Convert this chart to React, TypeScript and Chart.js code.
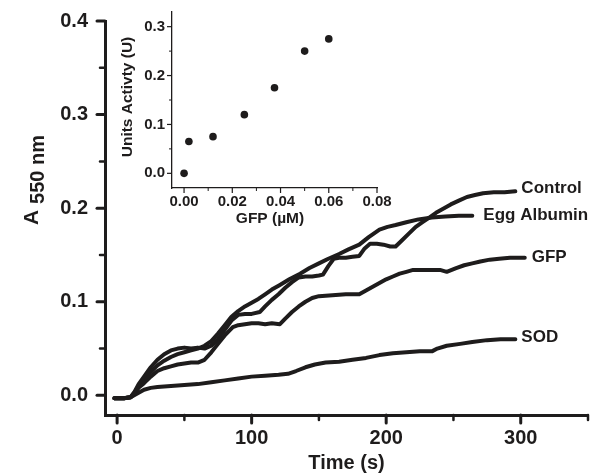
import React, { useEffect, useRef } from "react";
import { Chart, registerables } from "chart.js";

Chart.register(...registerables);

const FONT = '"Liberation Sans", Arial, Helvetica, sans-serif';
const INK = "#1e1c1c";

// ---------- main panel: A550 vs time ----------
const controlTime = [-2, 5, 10, 13, 16, 20, 25, 30, 35, 40, 45, 50, 55, 60, 65, 70, 75, 80, 85, 90, 95, 100, 106, 110, 115, 120, 125, 130, 135, 140, 145, 150, 153, 157, 161, 165, 170, 175, 180, 184, 188, 193, 198, 203, 207, 212, 217, 222, 227, 232, 237, 242, 248, 254, 260, 266, 272, 280, 288, 296];
const controlA550 = [-0.003, -0.003, -0.002, 0.004, 0.012, 0.02, 0.03, 0.038, 0.044, 0.048, 0.05, 0.051, 0.05, 0.051, 0.05, 0.053, 0.06, 0.07, 0.08, 0.086, 0.087, 0.087, 0.089, 0.095, 0.102, 0.108, 0.115, 0.121, 0.126, 0.127, 0.127, 0.128, 0.129, 0.138, 0.146, 0.147, 0.147, 0.148, 0.149, 0.157, 0.162, 0.162, 0.161, 0.159, 0.159, 0.166, 0.173, 0.18, 0.185, 0.19, 0.195, 0.199, 0.204, 0.208, 0.212, 0.214, 0.216, 0.217, 0.217, 0.218];

const eggTime = [-2, 5, 10, 13, 16, 20, 25, 30, 35, 40, 45, 50, 55, 60, 65, 70, 75, 80, 85, 90, 95, 100, 105, 110, 115, 121, 128, 136, 143, 150, 157, 165, 172, 180, 187, 195, 201, 207, 215, 224, 234, 244, 254, 264];
const eggA550 = [-0.003, -0.003, -0.002, 0.003, 0.01, 0.017, 0.025, 0.032, 0.037, 0.041, 0.044, 0.046, 0.048, 0.05, 0.053, 0.058, 0.066, 0.075, 0.084, 0.09, 0.095, 0.099, 0.103, 0.108, 0.113, 0.118, 0.124, 0.13, 0.136, 0.141, 0.146, 0.151, 0.156, 0.161, 0.169, 0.177, 0.18, 0.182, 0.185, 0.188, 0.19, 0.191, 0.192, 0.192];

const gfpTime = [-2, 5, 10, 13, 16, 20, 25, 30, 35, 40, 45, 50, 55, 60, 65, 70, 75, 80, 86, 90, 95, 100, 105, 110, 115, 121, 125, 130, 135, 140, 145, 150, 160, 170, 180, 185, 190, 195, 200, 205, 210, 215, 220, 230, 240, 245, 252, 258, 264, 270, 277, 284, 292, 303];
const gfpA550 = [-0.003, -0.003, -0.002, 0.002, 0.008, 0.013, 0.02, 0.026, 0.029, 0.031, 0.033, 0.034, 0.035, 0.035, 0.038, 0.046, 0.055, 0.064, 0.073, 0.075, 0.076, 0.077, 0.077, 0.076, 0.077, 0.076, 0.082, 0.089, 0.095, 0.1, 0.104, 0.106, 0.107, 0.108, 0.108, 0.112, 0.116, 0.12, 0.124, 0.127, 0.13, 0.132, 0.134, 0.134, 0.134, 0.132, 0.136, 0.139, 0.141, 0.143, 0.145, 0.146, 0.147, 0.147];

const sodTime = [-2, 5, 10, 15, 20, 25, 30, 40, 50, 60, 70, 80, 90, 100, 110, 120, 127, 133, 140, 147, 155, 165, 175, 185, 195, 205, 215, 225, 234, 238, 245, 255, 264, 275, 285, 296];
const sodA550 = [-0.003, -0.003, -0.002, 0.002, 0.006, 0.008, 0.009, 0.01, 0.011, 0.012, 0.014, 0.016, 0.018, 0.02, 0.021, 0.022, 0.023, 0.026, 0.03, 0.033, 0.035, 0.036, 0.038, 0.04, 0.043, 0.045, 0.046, 0.047, 0.047, 0.05, 0.053, 0.055, 0.057, 0.059, 0.06, 0.06];

const seriesNames = ["Control", "Egg Albumin", "GFP", "SOD"];

const mainXTicks = [0, 100, 200, 300];
const mainXMinorTicks = [50, 150, 250, 350];
const mainYTicks = [0, 0.1, 0.2, 0.3, 0.4];
const mainYMinorTicks = [0.05, 0.15, 0.25, 0.35];

// ---------- inset: activity vs GFP concentration ----------
const gfpConcentration = [0, 0.002, 0.012, 0.025, 0.0375, 0.05, 0.06];
const unitsActivity = [0, 0.065, 0.075, 0.12, 0.175, 0.25, 0.275];
const insetXTicks = [0, 0.02, 0.04, 0.06, 0.08];
const insetXMinorTicks = [0.01, 0.03, 0.05, 0.07];
const insetYTicks = [0, 0.1, 0.2, 0.3];
const insetYMinorTicks = [0.05, 0.15, 0.25];

// label offsets (px) from the end of each trace
const labelOffsets: [number, number][] = [[6, -3], [11, 0], [7, 0], [6, -2]];

const toPoints = (xs: number[], ys: number[]) => xs.map((x, i) => ({ x, y: ys[i] }));

function tickPlugin(id: string, spec: any) {
  return {
    id,
    afterDraw(chart: any) {
      const ctx = chart.ctx;
      const xs = chart.scales.x;
      const ys = chart.scales.y;
      const a = chart.chartArea;
      ctx.save();
      ctx.strokeStyle = INK;
      ctx.lineCap = spec.cap;
      const drawX = (vals: number[], len: number, w: number) => {
        ctx.lineWidth = w;
        vals.forEach((v) => {
          const px = xs.getPixelForValue(v);
          ctx.beginPath();
          ctx.moveTo(px, a.bottom);
          ctx.lineTo(px, a.bottom + len);
          ctx.stroke();
        });
      };
      const drawY = (vals: number[], len: number, w: number) => {
        ctx.lineWidth = w;
        vals.forEach((v) => {
          const py = ys.getPixelForValue(v);
          ctx.beginPath();
          ctx.moveTo(a.left, py);
          ctx.lineTo(a.left - len, py);
          ctx.stroke();
        });
      };
      drawX(spec.xMajor, spec.majorLen, spec.majorW);
      drawX(spec.xMinor, spec.minorLen, spec.minorW);
      drawY(spec.yMajor, spec.majorLen, spec.majorW);
      drawY(spec.yMinor, spec.minorLen, spec.minorW);
      ctx.restore();
    },
  };
}

const mainTextPlugin = {
  id: "mainText",
  afterDraw(chart: any) {
    const ctx = chart.ctx;
    ctx.save();
    ctx.fillStyle = INK;
    ctx.font = `bold 17px ${FONT}`;
    ctx.textAlign = "left";
    ctx.textBaseline = "middle";
    chart.data.datasets.forEach((ds: any, i: number) => {
      const meta = chart.getDatasetMeta(i);
      const last = meta.data[meta.data.length - 1];
      const [dx, dy] = labelOffsets[i];
      ctx.fillText(ds.label, last.x + dx, last.y + dy);
    });
    const a = chart.chartArea;
    ctx.font = `bold 20px ${FONT}`;
    ctx.textAlign = "center";
    ctx.fillText("Time (s)", (a.left + a.right) / 2, 463);
    ctx.translate(31, 180);
    ctx.rotate(-Math.PI / 2);
    ctx.textAlign = "left";
    ctx.textBaseline = "alphabetic";
    const big = `bold 21px ${FONT}`;
    const small = `bold 20px ${FONT}`;
    ctx.font = big;
    const wA = ctx.measureText("A ").width;
    ctx.font = small;
    const wS = ctx.measureText("550 nm").width;
    const start = -(wA + wS) / 2;
    ctx.font = big;
    ctx.fillText("A", start, 7);
    ctx.font = small;
    ctx.fillText("550 nm", start + wA, 13);
    ctx.restore();
  },
};

const insetTextPlugin = {
  id: "insetText",
  afterDraw(chart: any) {
    const ctx = chart.ctx;
    ctx.save();
    ctx.fillStyle = INK;
    ctx.font = `bold 15.5px ${FONT}`;
    ctx.textAlign = "center";
    ctx.textBaseline = "middle";
    ctx.fillText("GFP (\u00b5M)", 170, 219);
    ctx.translate(28, 97);
    ctx.rotate(-Math.PI / 2);
    ctx.fillText("Units Activty (U)", 0, 0);
    ctx.restore();
  },
};

export default function App() {
  const mainRef = useRef<HTMLCanvasElement>(null);
  const insetRef = useRef<HTMLCanvasElement>(null);

  useEffect(() => {
    const lineStyle = {
      borderColor: INK,
      borderWidth: 4,
      pointRadius: 0,
      tension: 0,
      fill: false,
      borderJoinStyle: "round",
      borderCapStyle: "round",
    };
    const main = new Chart(mainRef.current as HTMLCanvasElement, {
      type: "line",
      data: {
        datasets: [
          { label: seriesNames[0], data: toPoints(controlTime, controlA550), ...lineStyle },
          { label: seriesNames[1], data: toPoints(eggTime, eggA550), ...lineStyle },
          { label: seriesNames[2], data: toPoints(gfpTime, gfpA550), ...lineStyle },
          { label: seriesNames[3], data: toPoints(sodTime, sodA550), ...lineStyle },
        ],
      },
      options: {
        animation: false,
        responsive: false,
        devicePixelRatio: 1,
        layout: { padding: { top: 15, right: 18, left: 0, bottom: 0 } },
        plugins: { legend: { display: false }, tooltip: { enabled: false } },
        scales: {
          x: {
            type: "linear",
            min: -9,
            max: 350,
            afterBuildTicks: (s: any) => {
              s.ticks = mainXTicks.map((v) => ({ value: v }));
            },
            afterFit: (s: any) => {
              s.height = 60;
            },
            grid: { drawOnChartArea: false, drawTicks: true, tickLength: 8, color: "rgba(0,0,0,0)" },
            border: { display: true, color: INK, width: 3 },
            ticks: {
              color: INK,
              font: { family: FONT, size: 20, weight: "bold" },
              padding: 3,
              maxRotation: 0,
              autoSkip: false,
              callback: (v: any) => String(v),
            },
          },
          y: {
            type: "linear",
            min: -0.021,
            max: 0.4,
            afterBuildTicks: (s: any) => {
              s.ticks = mainYTicks.map((v) => ({ value: v }));
            },
            afterFit: (s: any) => {
              s.width = 105;
            },
            grid: { drawOnChartArea: false, drawTicks: true, tickLength: 8, color: "rgba(0,0,0,0)" },
            border: { display: true, color: INK, width: 3 },
            ticks: {
              color: INK,
              font: { family: FONT, size: 20, weight: "bold" },
              padding: 9,
              autoSkip: false,
              callback: (v: any) => Number(v).toFixed(1),
            },
          },
        },
      } as any,
      plugins: [
        tickPlugin("mainTicks", {
          cap: "round",
          xMajor: mainXTicks,
          xMinor: mainXMinorTicks,
          yMajor: mainYTicks,
          yMinor: mainYMinorTicks,
          majorLen: 8,
          majorW: 3,
          minorLen: 5,
          minorW: 2.5,
        }),
        mainTextPlugin,
      ],
    });

    const inset = new Chart(insetRef.current as HTMLCanvasElement, {
      type: "scatter",
      data: {
        datasets: [
          {
            label: "Units Activity",
            data: toPoints(gfpConcentration, unitsActivity),
            pointRadius: 3.8,
            pointBackgroundColor: INK,
            pointBorderColor: INK,
            pointBorderWidth: 0,
            showLine: false,
          },
        ],
      },
      options: {
        animation: false,
        responsive: false,
        devicePixelRatio: 1,
        layout: { padding: { top: 8, right: 23, left: 0, bottom: 0 } },
        plugins: { legend: { display: false }, tooltip: { enabled: false } },
        scales: {
          x: {
            type: "linear",
            min: -0.005,
            max: 0.08,
            afterBuildTicks: (s: any) => {
              s.ticks = insetXTicks.map((v) => ({ value: v }));
            },
            afterFit: (s: any) => {
              s.height = 52;
            },
            grid: { drawOnChartArea: false, drawTicks: true, tickLength: 4, color: "rgba(0,0,0,0)" },
            border: { display: true, color: INK, width: 1.3 },
            ticks: {
              color: INK,
              font: { family: FONT, size: 15, weight: "bold" },
              padding: 1,
              maxRotation: 0,
              autoSkip: false,
              callback: (v: any) => Number(v).toFixed(2),
            },
          },
          y: {
            type: "linear",
            min: -0.03,
            max: 0.33,
            afterBuildTicks: (s: any) => {
              s.ticks = insetYTicks.map((v) => ({ value: v }));
            },
            afterFit: (s: any) => {
              s.width = 72;
            },
            grid: { drawOnChartArea: false, drawTicks: true, tickLength: 4, color: "rgba(0,0,0,0)" },
            border: { display: true, color: INK, width: 1.3 },
            ticks: {
              color: INK,
              font: { family: FONT, size: 15, weight: "bold" },
              padding: 3,
              autoSkip: false,
              callback: (v: any) => Number(v).toFixed(1),
            },
          },
        },
      } as any,
      plugins: [
        tickPlugin("insetTicks", {
          cap: "butt",
          xMajor: insetXTicks,
          xMinor: insetXMinorTicks,
          yMajor: insetYTicks,
          yMinor: insetYMinorTicks,
          majorLen: 5,
          majorW: 1.2,
          minorLen: 3,
          minorW: 1,
        }),
        insetTextPlugin,
      ],
    });

    return () => {
      main.destroy();
      inset.destroy();
    };
  }, []);

  return (
    <div style={{ position: "absolute", left: 0, top: 0, width: 606, height: 475, background: "#ffffff" }}>
      <canvas ref={mainRef} width={606} height={475} style={{ position: "absolute", left: 0, top: 0 }} />
      <canvas ref={insetRef} width={300} height={240} style={{ position: "absolute", left: 100, top: 0 }} />
    </div>
  );
}
